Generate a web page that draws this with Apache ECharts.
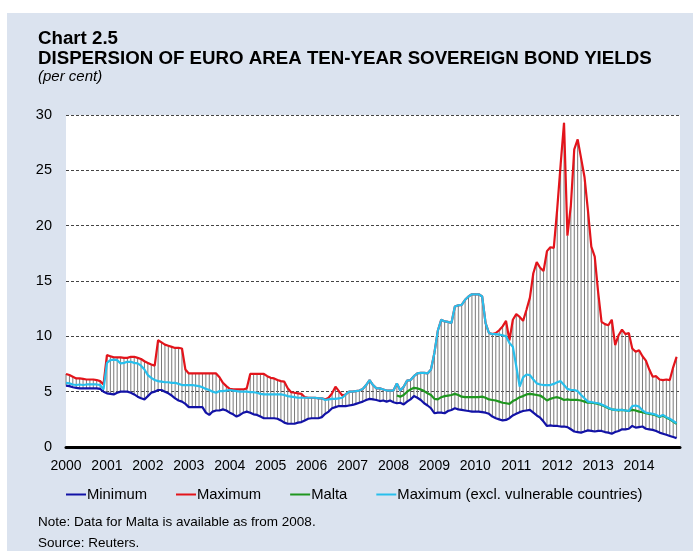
<!DOCTYPE html>
<html><head><meta charset="utf-8">
<script src="https://cdn.jsdelivr.net/npm/echarts/dist/echarts.min.js"></script>
<style>
html,body{margin:0;padding:0;background:#fff;width:693px;height:551px;overflow:hidden}
#panel{position:absolute;left:7px;top:13px;width:686px;height:538px;background:#dbe3ef}
#main{width:686px;height:538px}
</style></head><body>
<div id="panel"><div id="main"></div></div>
<script>
// Tick labels (one per year, January)
const yearLabels = ['2000','2001','2002','2003','2004','2005','2006','2007','2008','2009','2010','2011','2012','2013','2014'];

// Monthly data, Jan 2000 - Dec 2014 (per cent)
const minimum = [
 5.55,5.5,5.4,5.35,5.3,5.3,5.3,5.3,5.3,5.3,5.25,5.0,
 4.85,4.8,4.75,4.9,5.0,5.0,5.0,4.9,4.75,4.55,4.4,4.3,
 4.6,4.9,5.0,5.15,5.15,5.0,4.85,4.65,4.4,4.2,4.1,3.9,
 3.6,3.6,3.6,3.6,3.6,3.1,2.9,3.2,3.3,3.3,3.4,3.3,
 3.1,2.95,2.75,2.9,3.1,3.2,3.1,2.95,2.9,2.75,2.6,2.6,
 2.6,2.6,2.55,2.4,2.2,2.1,2.1,2.1,2.2,2.25,2.4,2.55,
 2.6,2.6,2.6,2.7,3.0,3.2,3.5,3.6,3.7,3.7,3.7,3.75,
 3.8,3.9,4.0,4.1,4.25,4.35,4.3,4.25,4.15,4.2,4.1,4.2,
 4.05,3.95,4.0,3.85,4.1,4.3,4.6,4.45,4.25,3.95,3.75,3.5,
 3.05,3.1,3.1,3.05,3.25,3.35,3.5,3.4,3.35,3.3,3.25,3.2,
 3.2,3.2,3.15,3.1,3.0,2.75,2.6,2.5,2.4,2.45,2.6,2.85,
 3.0,3.15,3.25,3.3,3.35,3.1,2.85,2.65,2.3,1.9,1.95,1.9,
 1.9,1.85,1.85,1.8,1.6,1.4,1.35,1.3,1.4,1.5,1.45,1.4,
 1.45,1.45,1.35,1.3,1.2,1.35,1.45,1.6,1.6,1.65,1.9,1.75,
 1.8,1.85,1.65,1.6,1.55,1.45,1.3,1.2,1.1,1.0,0.9,0.8
];
const maximum = [
 6.6,6.5,6.35,6.2,6.2,6.15,6.1,6.1,6.1,6.05,5.95,5.65,
 8.3,8.2,8.1,8.1,8.1,8.05,8.05,8.15,8.15,8.05,7.95,7.75,
 7.6,7.45,7.35,9.65,9.45,9.25,9.15,9.05,8.95,8.95,8.9,7.0,
 6.65,6.65,6.65,6.65,6.65,6.65,6.65,6.65,6.65,6.3,5.8,5.5,
 5.25,5.2,5.2,5.2,5.2,5.3,6.6,6.6,6.6,6.6,6.6,6.4,
 6.25,6.2,6.05,5.95,5.9,5.3,4.95,4.9,4.85,4.8,4.5,4.45,
 4.45,4.45,4.4,4.4,4.3,4.45,4.85,5.45,5.05,4.65,4.75,5.0,
 5.0,5.05,5.1,5.25,5.6,6.05,5.6,5.3,5.3,5.2,5.1,5.1,
 5.1,5.75,5.1,5.45,6.0,6.05,6.4,6.65,6.7,6.7,6.65,7.0,
 8.5,10.5,11.5,11.35,11.3,11.2,12.7,12.8,12.85,13.3,13.6,13.8,
 13.8,13.8,13.6,11.2,10.3,10.2,10.3,10.55,10.9,11.4,9.65,11.5,
 12.0,11.75,11.4,12.4,13.5,15.7,16.7,16.2,15.9,17.7,18.05,18.0,
 21.5,25.5,29.3,19.1,21.8,26.9,27.8,26.1,24.4,21.4,18.1,17.2,
 14.0,11.3,11.1,11.0,11.5,9.2,10.1,10.6,10.2,10.3,8.9,8.6,
 8.75,8.2,7.8,7.0,6.35,6.4,6.1,6.05,6.1,6.05,7.2,8.15
];
const malta = [
 null,null,null,null,null,null,null,null,null,null,null,null,
 null,null,null,null,null,null,null,null,null,null,null,null,
 null,null,null,null,null,null,null,null,null,null,null,null,
 null,null,null,null,null,null,null,null,null,null,null,null,
 null,null,null,null,null,null,null,null,null,null,null,null,
 null,null,null,null,null,null,null,null,null,null,null,null,
 null,null,null,null,null,null,null,null,null,null,null,null,
 null,null,null,null,null,null,null,null,null,null,null,null,
 null,4.65,4.55,4.7,5.0,5.2,5.35,5.3,5.2,5.05,4.85,4.7,
 4.35,4.3,4.5,4.6,4.65,4.7,4.8,4.7,4.55,4.5,4.5,4.5,
 4.5,4.5,4.55,4.45,4.3,4.25,4.2,4.1,4.0,3.95,3.9,4.15,
 4.3,4.5,4.6,4.75,4.8,4.75,4.7,4.65,4.45,4.2,4.35,4.45,
 4.5,4.4,4.25,4.3,4.25,4.25,4.25,4.2,4.1,4.0,4.0,3.95,
 3.9,3.8,3.65,3.5,3.4,3.35,3.3,3.35,3.3,3.25,3.35,3.3,
 3.2,3.15,3.05,3.0,2.95,2.85,2.7,2.85,2.65,2.5,2.3,2.1
];
const maxExclVulnerable = [
 5.8,5.75,5.65,5.6,5.65,5.6,5.65,5.65,5.65,5.65,5.6,5.2,
 7.6,7.85,7.9,7.85,7.55,7.6,7.7,7.7,7.6,7.55,7.35,7.0,
 6.5,6.25,6.05,5.95,5.9,5.85,5.85,5.8,5.8,5.7,5.6,5.6,
 5.6,5.6,5.55,5.5,5.4,5.25,5.15,5.0,4.9,5.05,5.05,5.1,
 5.15,5.1,5.05,5.0,5.0,5.0,4.95,4.95,4.9,4.8,4.75,4.75,
 4.75,4.75,4.75,4.75,4.7,4.6,4.55,4.5,4.45,4.45,4.45,4.45,
 4.45,4.45,4.4,4.4,4.25,4.3,4.35,4.35,4.4,4.45,4.75,5.0,
 5.0,5.05,5.1,5.25,5.6,6.05,5.6,5.3,5.3,5.2,5.1,5.1,
 5.1,5.75,5.1,5.45,6.0,6.05,6.4,6.65,6.7,6.7,6.65,7.0,
 8.5,10.5,11.5,11.35,11.3,11.2,12.7,12.8,12.85,13.3,13.6,13.8,
 13.8,13.8,13.6,11.2,10.3,10.2,10.2,10.15,10.1,10.0,9.4,9.05,
 7.3,5.45,6.3,6.55,6.5,6.1,5.75,5.65,5.6,5.6,5.6,5.7,
 5.85,5.95,5.6,5.25,5.15,5.15,5.05,4.7,4.4,4.1,4.05,4.0,
 3.95,3.85,3.7,3.55,3.4,3.35,3.35,3.35,3.3,3.25,3.7,3.75,
 3.65,3.3,3.1,3.05,3.0,2.9,2.75,2.9,2.7,2.55,2.35,2.15
];

const FONT = '"Liberation Sans", Arial, Helvetica, sans-serif';
const pairs = arr => arr.map((v, i) => [i, v]);
const rangeData = minimum.map((v, i) => [i, v, maximum[i]]);

const chart = echarts.init(document.getElementById('main'), null, {renderer: 'canvas'});
chart.setOption({
  animation: false,
  backgroundColor: 'transparent',
  textStyle: {fontFamily: FONT},
  title: [
    {text: 'Chart 2.5', left: 31, top: 16, padding: 0,
     textStyle: {fontFamily: FONT, fontSize: 18.7, fontWeight: 'bold', color: '#000'}},
    {text: 'DISPERSION OF EURO AREA TEN-YEAR SOVEREIGN BOND YIELDS', left: 31, top: 36, padding: 0,
     textStyle: {fontFamily: FONT, fontSize: 18.7, fontWeight: 'bold', color: '#000'}},
    {text: '(per cent)', left: 31, top: 56, padding: 0,
     textStyle: {fontFamily: FONT, fontSize: 15, fontStyle: 'italic', fontWeight: 'normal', color: '#000'}},
    {text: 'Note: Data for Malta is available as from 2008.', left: 31, top: 502, padding: 0,
     textStyle: {fontFamily: FONT, fontSize: 13.5, fontWeight: 'normal', color: '#000'}},
    {text: 'Source: Reuters.', left: 31, top: 523, padding: 0,
     textStyle: {fontFamily: FONT, fontSize: 13.5, fontWeight: 'normal', color: '#000'}}
  ],
  legend: {
    left: 59, top: 474, padding: 0, itemGap: 29, itemWidth: 20, itemHeight: 2, icon: 'rect',
    textStyle: {fontFamily: FONT, fontSize: 14.8, color: '#000', padding: [0, 0, 0, -4]},
    data: ['Minimum', 'Maximum', 'Malta', 'Maximum (excl. vulnerable countries)']
  },
  grid: {left: 59, top: 102, width: 614, height: 332, show: true, backgroundColor: '#fff', borderWidth: 0},
  xAxis: {
    type: 'value', min: 0, max: 180, interval: 12,
    axisLine: {show: true, lineStyle: {color: '#000', width: 3}},
    axisTick: {show: false},
    splitLine: {show: false},
    axisLabel: {
      fontFamily: FONT, fontSize: 14, color: '#000', margin: 12, showMaxLabel: false,
      formatter: v => (yearLabels[v / 12] !== undefined ? yearLabels[v / 12] : '')
    }
  },
  yAxis: {
    type: 'value', min: 0, max: 30, interval: 5,
    axisLine: {show: false}, axisTick: {show: false},
    splitLine: {show: true, lineStyle: {color: '#444', width: 1, type: [3, 2]}},
    axisLabel: {fontFamily: FONT, fontSize: 14.5, color: '#000', margin: 14}
  },
  series: [
    {
      type: 'custom', name: 'range', silent: true, z: 1,
      data: rangeData, encode: {x: 0, y: [1, 2]},
      renderItem: (params, api) => {
        const p1 = api.coord([api.value(0), api.value(1)]);
        const p2 = api.coord([api.value(0), api.value(2)]);
        return {type: 'line', shape: {x1: p1[0], y1: p1[1], x2: p2[0], y2: p2[1]},
                style: {stroke: '#7a7a7a', lineWidth: 1}};
      }
    },
    {type: 'line', name: 'Minimum', data: pairs(minimum), showSymbol: false, symbol: 'none', z: 3,
     color: '#1212a6', lineStyle: {width: 2.2, color: '#1212a6'}},
    {type: 'line', name: 'Maximum', data: pairs(maximum), showSymbol: false, symbol: 'none', z: 3,
     color: '#e3141b', lineStyle: {width: 2.2, color: '#e3141b'}},
    {type: 'line', name: 'Malta', data: pairs(malta), showSymbol: false, symbol: 'none', z: 3, connectNulls: false,
     color: '#1f961f', lineStyle: {width: 2.2, color: '#1f961f'}},
    {type: 'line', name: 'Maximum (excl. vulnerable countries)', data: pairs(maxExclVulnerable), showSymbol: false, symbol: 'none', z: 3,
     color: '#28bfec', lineStyle: {width: 2.2, color: '#28bfec'}}
  ]
});
</script>
</body></html>
